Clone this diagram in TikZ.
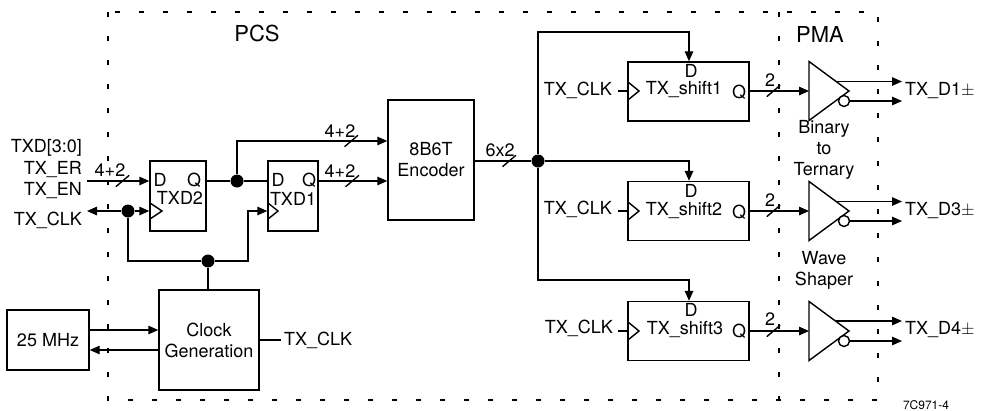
\documentclass[tikz,border=0pt]{standalone}
\usepackage{fontspec}
\setmainfont{TeX Gyre Heros}
\usetikzlibrary{shapes.geometric, arrows.meta, positioning, calc}
\tikzset{
  block/.style={rectangle, draw=black, fill=white, inner sep=0pt, align=center,
    line width=1.4pt, font=\fontsize{18}{21}\selectfont},
  wire/.style={line width=1.4pt, color=black},
  arrow/.style={-{Triangle[length=10pt,width=8.5pt]}, line width=1.4pt, color=black},
  dotnode/.style={circle, fill=black, inner sep=0pt, minimum size=13pt},
  bubble/.style={circle, draw=black, fill=white, inner sep=0pt, minimum size=11pt, line width=1.4pt},
  buffer/.style={draw=black, fill=white, line width=1.4pt, line join=miter},
  busmark/.style={inner sep=0pt, minimum width=12pt, minimum height=10pt},
  txt/.style={inner sep=3pt, align=center, font=\fontsize{18}{21}\selectfont},
  title/.style={inner sep=0pt, font=\fontsize{22}{24}\selectfont},
  border/.style={line width=1.6pt, dash pattern=on 5pt off 19pt}
}
\begin{document}
\begin{tikzpicture}[x=1pt, y=-1pt]
  \useasboundingbox (0,0) rectangle (981,410);
  % Dashed borders
  \draw[border] (108,12) rectangle (878,400);
  \draw[border] (779,12) -- (779,400);
  \node[title] (pcs) at (257,33) {PCS};
  \node[title] (pma) at (820,34) {PMA};

  % Input latches
  \node[block, minimum width=56pt, minimum height=70pt] (txdtwo) at (178,196) {};
  \node[block, minimum width=50pt, minimum height=70pt] (txdone) at (293,196) {};
  \node[txt, inner sep=0pt] (txdtwod) at (160,180) {D};
  \node[txt, inner sep=0pt] (txdtwoq) at (194,180) {Q};
  \node[txt, inner sep=0pt] (txdtwon) at (180,198) {TXD2};
  \node[txt, inner sep=0pt] (txdoned) at (278,180) {D};
  \node[txt, inner sep=0pt] (txdoneq) at (309,180) {Q};
  \node[txt, inner sep=0pt] (txdonen) at (293,199) {TXD1};
  \draw[wire] (150,203) -- (162,211) -- (150,219);
  \draw[wire] (268,203) -- (278,211) -- (268,219);

  % Clock blocks
  \node[block, minimum width=82pt, minimum height=60pt] (xtal) at (48,340) {25 MHz};
  \node[block, minimum width=100pt, minimum height=100pt] (clkgen) at (209,340) {Clock\\Generation};
  \node[block, minimum width=86pt, minimum height=120pt] (enc) at (431,160) {8B6T\\Encoder};

  % Input labels
  \node[txt, anchor=east] (txdlab) at (85,148) {TXD[3:0]};
  \node[txt, anchor=east] (erlab) at (85,170) {TX\_ER};
  \node[txt, anchor=east] (enlab) at (85,191) {TX\_EN};
  \node[txt, anchor=east] (clklab) at (85,220) {TX\_CLK};
  \node[txt, anchor=west] (genlab) at (281,340) {TX\_CLK};

  % Latch wiring
  \coordinate (txdin) at (87,181);
  \coordinate (clkin) at (87,211);
  \node[dotnode] (dotq) at (237,181) {};
  \node[dotnode] (dotck) at (128,211) {};
  \node[dotnode] (dotgen) at (208,261) {};
  \draw[arrow] (txdin) -- node[pos=0.57, busmark] (mka) {} (txdin -| txdtwo.west);
  \node[txt, inner sep=0pt] (lba) at (110,170) {4+2};
  \draw[arrow] (dotck) -- (clkin);
  \draw[arrow] (dotck) -- (dotck -| txdtwo.west);
  \draw[wire] (txdtwo.east |- dotq) -- (dotq) -- (dotq -| txdone.west);
  \draw[arrow] (dotq) |- node[pos=0.88, busmark] (mkb) {} (enc.west |- 0,141);
  \node[txt, inner sep=0pt] (lbb) at (340,131) {4+2};
  \draw[arrow] (txdone.east |- dotq) -- node[pos=0.49, busmark] (mkc) {} (enc.west |- dotq);
  \node[txt, inner sep=0pt] (lbc) at (340,171) {4+2};
  \draw[wire] (dotck) |- (dotgen);
  \draw[arrow] (dotgen) -| (248,211) -- (248,211 -| txdone.west);
  \draw[wire] (dotgen) -- (clkgen.north -| dotgen);
  \draw[arrow] (xtal.east |- 0,330) -- (clkgen.west |- 0,330);
  \draw[arrow] (clkgen.west |- 0,350) -- (xtal.east |- 0,350);
  \draw[wire] (clkgen.east) -- (genlab.west);

  % Shift registers
  \node[block, minimum width=121pt, minimum height=59pt] (shiftone) at (688.5,91.5) {};
  \node[block, minimum width=121pt, minimum height=59pt] (shifttwo) at (688.5,211) {};
  \node[block, minimum width=121pt, minimum height=59pt] (shiftthree) at (688.5,331) {};
  \node[txt, inner sep=0pt] (shiftonen) at (684,90) {TX\_shift1};
  \node[txt, inner sep=0pt] (shifttwon) at (684,210) {TX\_shift2};
  \node[txt, inner sep=0pt] (shiftthreen) at (685,329) {TX\_shift3};
  \node[txt, inner sep=0pt] (shiftoned) at (691,71) {D};
  \node[txt, inner sep=0pt] (shifttwod) at (691,191) {D};
  \node[txt, inner sep=0pt] (shiftthreed) at (691,310) {D};
  \node[txt, inner sep=0pt] (shiftoneq) at (739,92) {Q};
  \node[txt, inner sep=0pt] (shifttwoq) at (739,212) {Q};
  \node[txt, inner sep=0pt] (shiftthreeq) at (739,331) {Q};
  \draw[wire] (628,82) -- (639,91) -- (628,100);
  \draw[wire] (628,202) -- (639,211) -- (628,220);
  \draw[wire] (628,322) -- (639,331) -- (628,340);
  \node[txt, anchor=east] (clkone) at (615,90) {TX\_CLK};
  \node[txt, anchor=east] (clktwo) at (615,209) {TX\_CLK};
  \node[txt, anchor=east] (clkthree) at (616,328) {TX\_CLK};
  \draw[wire] (618,91) -- (shiftone.west |- 0,91);
  \draw[wire] (618,211) -- (shifttwo.west |- 0,211);
  \draw[wire] (618,331) -- (shiftthree.west |- 0,331);

  % Encoder fan-out
  \node[dotnode] (dotenc) at (538,161) {};
  \draw[wire] (enc.east |- dotenc) -- node[pos=0.61, busmark] (mkd) {} (dotenc);
  \node[txt, inner sep=0pt] (lbd) at (500,150) {6x2};
  \draw[arrow] (dotenc) |- (689,32) -- (689,32 |- shiftone.north);
  \draw[arrow] (dotenc) -- (689,161) -- (689,161 |- shifttwo.north);
  \draw[arrow] (dotenc) |- (689,280) -- (689,280 |- shiftthree.north);

  % Buffers
  \coordinate (bufone) at (809,91);
  \coordinate (buftwo) at (809,211);
  \coordinate (bufthree) at (809,331);
  \draw[buffer] (bufone) ++(0,-29.5) -- ++(40,29.5) -- ++(-40,29.5) -- cycle;
  \draw[buffer] (buftwo) ++(0,-29.5) -- ++(40,29.5) -- ++(-40,29.5) -- cycle;
  \draw[buffer] (bufthree) ++(0,-29.5) -- ++(40,29.5) -- ++(-40,29.5) -- cycle;
  \node[bubble] (bubone) at (844,101) {};
  \node[bubble] (bubtwo) at (844,221) {};
  \node[bubble] (bubthree) at (844,341) {};
  \draw[arrow] (shiftone.east |- bufone) -- node[pos=0.4, busmark] (mke) {} (bufone);
  \draw[arrow] (shifttwo.east |- buftwo) -- node[pos=0.4, busmark] (mkf) {} (buftwo);
  \draw[arrow] (shiftthree.east |- bufthree) -- node[pos=0.4, busmark] (mkg) {} (bufthree);
  \node[txt, inner sep=0pt] (lbe) at (770,80) {2};
  \node[txt, inner sep=0pt] (lbf) at (770,200) {2};
  \node[txt, inner sep=0pt] (lbg) at (770,319) {2};
  % Bus slashes
  \foreach \m in {mka,mkb,mkc,mkd,mke,mkf,mkg}
    \draw[wire] (\m.south west) -- (\m.north east);

  % Outputs
  \node[txt, anchor=west] (tdone) at (902,91) {TX\_D1$\pm$};
  \node[txt, anchor=west] (tdtwo) at (902,211) {TX\_D3$\pm$};
  \node[txt, anchor=west] (tdthree) at (902,330) {TX\_D4$\pm$};
  \draw[arrow] (836,81.5) -- (tdone.west |- 0,81.5);
  \draw[arrow] (836,201.5) -- (tdtwo.west |- 0,201.5);
  \draw[arrow] (836,321) -- (tdthree.west |- 0,321);
  \draw[arrow] (bubone.east) -- (tdone.west |- bubone);
  \draw[arrow] (bubtwo.east) -- (tdtwo.west |- bubtwo);
  \draw[arrow] (bubthree.east) -- (tdthree.west |- bubthree);

  % PMA labels
  \node[txt, inner sep=0pt] (bttlab) at (824,150) {Binary\\to\\Ternary};
  \node[txt, inner sep=0pt] (wavelab) at (824,270) {Wave\\Shaper};
  \node[inner sep=0pt, font=\fontsize{12}{14}\selectfont] (figid) at (926,405) {7C971-4};
\end{tikzpicture}
\end{document}
